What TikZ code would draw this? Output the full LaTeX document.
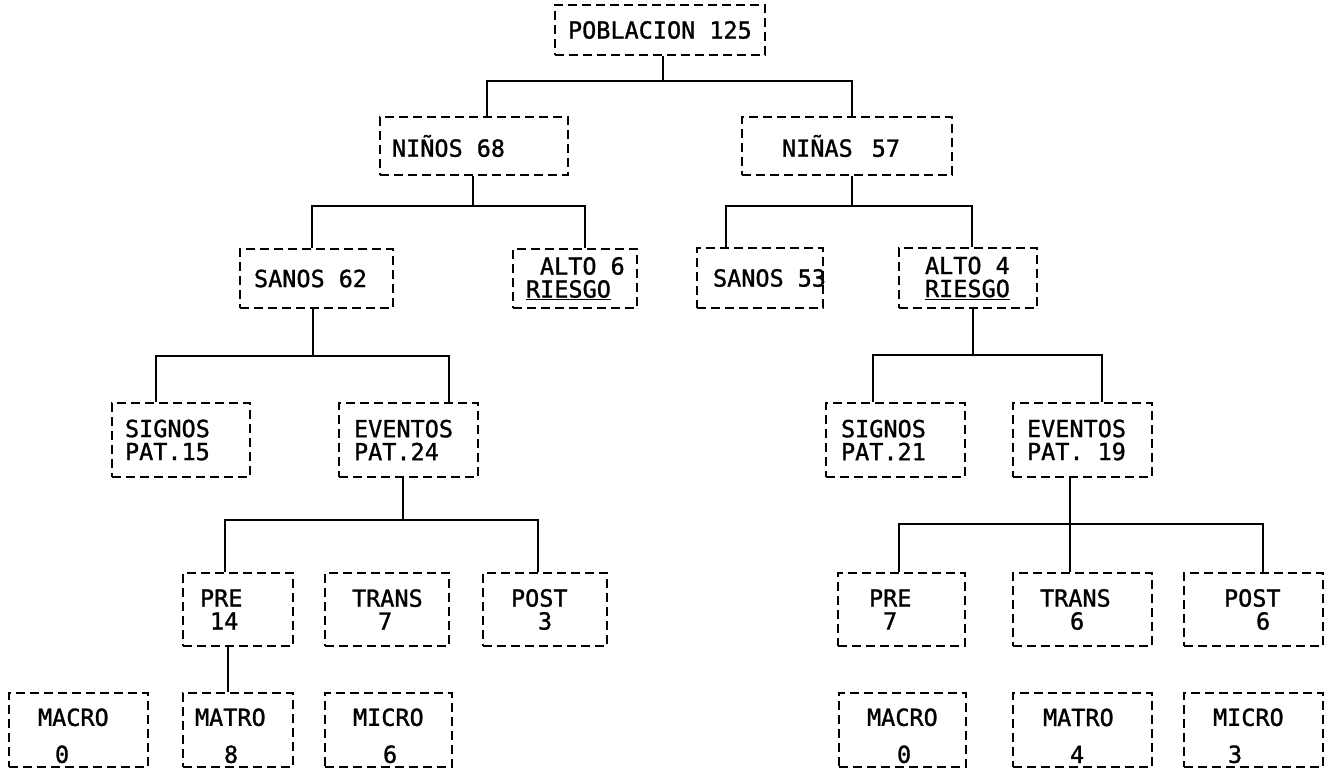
\documentclass[tikz,border=0pt]{standalone}
\usepackage{fontspec}
\newfontfamily\maquina[FakeBold=1.2]{DejaVu Sans Mono}
\usetikzlibrary{positioning}
\newcommand{\esp}{\hspace*{14pt}}
\newcommand{\bajo}{\rule{0pt}{29pt}}
\tikzset{%
  caja/.style n args={3}{draw, dash pattern=on 9pt off 5pt, line width=2pt,
    align=left, text width=#1pt, inner xsep=#2pt, inner ysep=0pt, minimum height=#3pt},
  rama/.style={line width=2pt}%
}

\begin{document}
\begin{tikzpicture}[
    x=1pt, y=-1pt,
    font=\maquina\fontsize{23.5}{23}\selectfont
]
\useasboundingbox (0,0) rectangle (1327,769);

% Nivel 1 y 2
\node[caja={184}{13}{50}] (pob) at (660,30) {POBLACION\esp 125};
\node[caja={164}{12}{58}] (ninos) at (474,146) {NIÑOS\esp 68};
\node[caja={130}{40}{58}] (ninas) at (847,146) {NIÑAS\hspace*{19pt}57};

% Nivel 3
\node[caja={125}{14}{59}] (sanosA) at (316.5,278.5) {SANOS\esp 62};
\node[caja={98}{13}{59}] (altoA) at (575,278.5) {\esp ALTO\esp 6\\\underline{RIESGO}};
\node[caja={94}{16}{60}] (sanosB) at (760,278) {SANOS\esp 53};
\node[caja={86}{26}{60}] (altoB) at (968,278) {ALTO\esp 4\\\underline{RIESGO}};

% Nivel 4
\node[caja={112}{13}{74}] (signosA) at (181,440) {SIGNOS\\PAT.15};
\node[caja={109}{15}{74}] (eventosA) at (408.5,440) {EVENTOS\\PAT.24};
\node[caja={109}{15}{74}] (signosB) at (895.5,440) {SIGNOS\\PAT.21};
\node[caja={111}{14}{74}] (eventosB) at (1082.5,440) {EVENTOS\\PAT.\esp 19};

% Nivel 5
\node[caja={76}{17}{73}] (preA) at (238,609.5) {PRE\\\hspace*{10pt}14};
\node[caja={70}{27}{73}] (transA) at (387,609.5) {TRANS\\\hspace*{26pt}7};
\node[caja={68}{28}{73}] (postA) at (545,609.5) {POST\\\hspace*{27pt}3};
\node[caja={65}{31}{73}] (preB) at (901.5,609.5) {PRE\\\hspace*{14pt}7};
\node[caja={85}{27}{73}] (transB) at (1082.5,609.5) {TRANS\\\hspace*{30pt}6};
\node[caja={59}{40}{73}] (postB) at (1253.5,609.5) {POST\\\hspace*{32pt}6};

% Nivel 6
\node[caja={81}{29}{74}] (macroA) at (78.5,730) {\bajo MACRO\\[14pt]\hspace*{17pt}0};
\node[caja={86}{12}{74}] (matroA) at (238,730) {\bajo MATRO\\[14pt]\hspace*{29pt}8};
\node[caja={71}{28}{74}] (microA) at (388.5,730) {\bajo MICRO\\[14pt]\hspace*{30pt}6};
\node[caja={71}{28}{74}] (macroB) at (902.5,730) {\bajo MACRO\\[14pt]\hspace*{30pt}0};
\node[caja={79}{30}{74}] (matroB) at (1082.5,730) {\bajo MATRO\\[14pt]\hspace*{27pt}4};
\node[caja={81}{29}{74}] (microB) at (1253.5,730) {\bajo MICRO\\[14pt]\hspace*{15pt}3};

% Ramas
\draw[rama] ([xshift=3]pob.south) -- ++(0,25) coordinate (b1) -| ([xshift=13]ninos.north);
\draw[rama] (b1) -| ([xshift=5]ninas.north);

\draw[rama] ([xshift=-1]ninos.south) -- ++(0,30) coordinate (b2) -| ([xshift=-4.5]sanosA.north);
\draw[rama] (b2) -| ([xshift=10]altoA.north);
\draw[rama] ([xshift=5]ninas.south) -- ++(0,30) coordinate (b3) -| ([xshift=-34]sanosB.north);
\draw[rama] (b3) -| ([xshift=4]altoB.north);

\draw[rama] ([xshift=-3.5]sanosA.south) -- ++(0,47) coordinate (b4) -| ([xshift=-25]signosA.north);
\draw[rama] (b4) -| ([xshift=40.5]eventosA.north);
\draw[rama] ([xshift=5]altoB.south) -- ++(0,46) coordinate (b5) -| ([xshift=-22.5]signosB.north);
\draw[rama] (b5) -| ([xshift=19.5]eventosB.north);

\draw[rama] ([xshift=-5.5]eventosA.south) -- ++(0,42) coordinate (b6) -| ([xshift=-13]preA.north);
\draw[rama] (b6) -| ([xshift=-7]postA.north);
\draw[rama] ([xshift=-12.5]eventosB.south) -- ++(0,46) coordinate (b7) -| ([xshift=-2.5]preB.north);
\draw[rama] (b7) -| ([xshift=9.5]postB.north);
\draw[rama] (b7) -- ([xshift=-12.5]transB.north);

\draw[rama] ([xshift=-10]preA.south) -- ([xshift=-10]matroA.north);

\end{tikzpicture}
\end{document}
